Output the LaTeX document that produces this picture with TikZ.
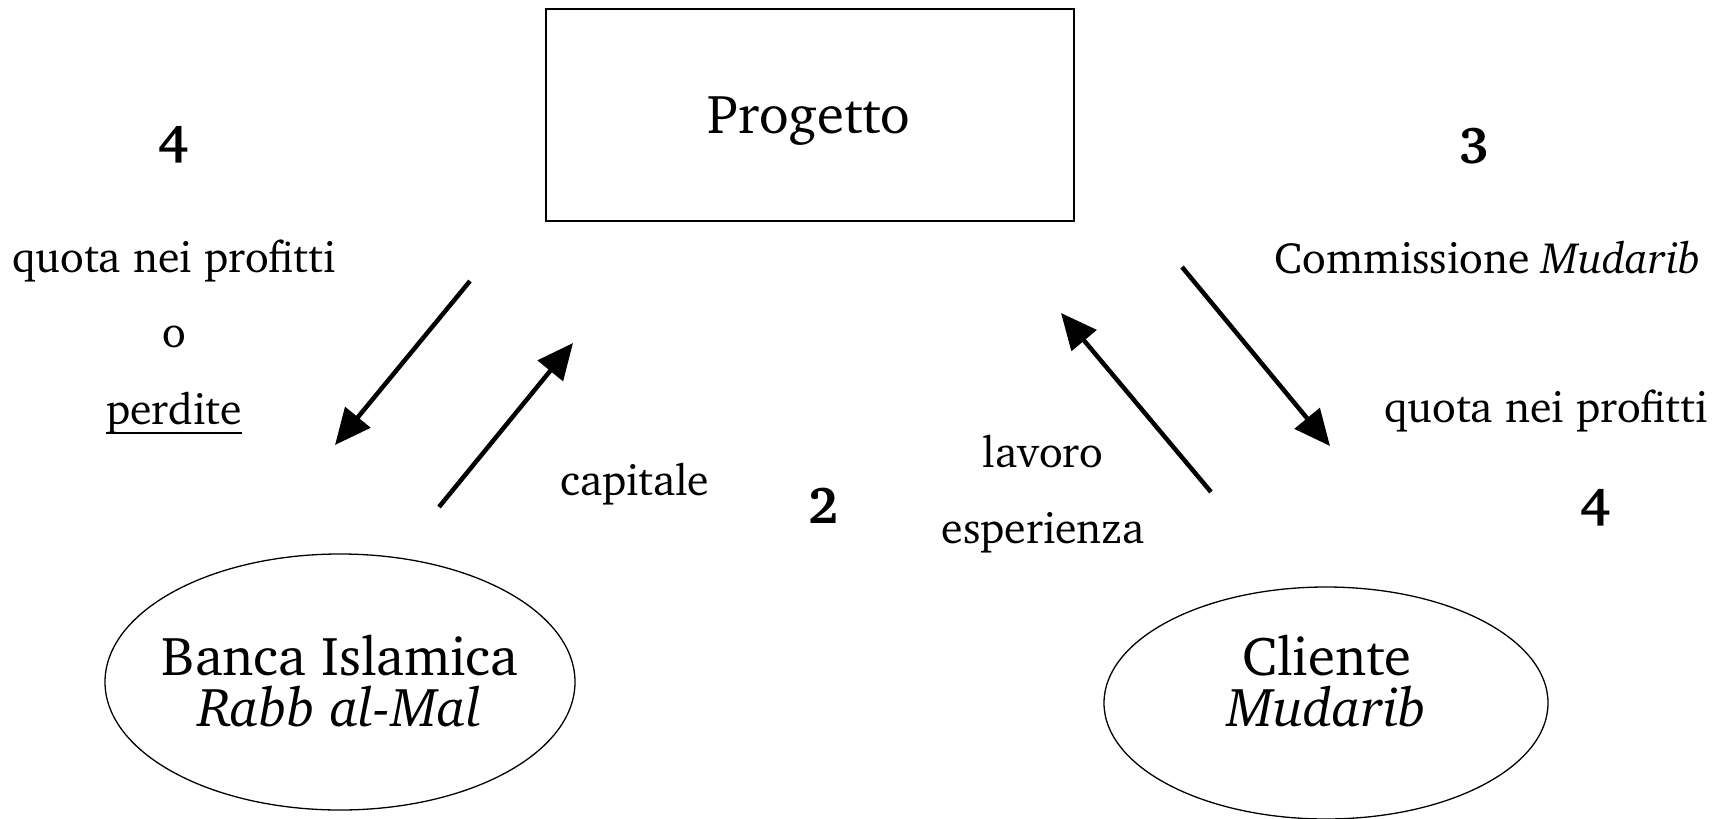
\documentclass[tikz,border=0pt]{standalone}
\usepackage[T1]{fontenc}
\usepackage{charter}
\usetikzlibrary{shapes.geometric,arrows.meta}
\tikzset{
  lbl/.style={inner sep=0pt,font=\fontsize{44}{50}\selectfont},
  big/.style={inner sep=0pt,font=\fontsize{55}{62}\selectfont,align=center},
  num/.style={inner sep=0pt,font=\fontsize{52}{58}\selectfont\bfseries},
  flow/.style={line width=4.5bp,-{Triangle[length=36bp,width=32bp]}},
  ell/.style={draw,ellipse,line width=1.3bp,inner sep=0pt},
}
\begin{document}
\begin{tikzpicture}[x=1bp,y=-1bp]
\useasboundingbox (0,0) rectangle (1722,819);
\node[draw,line width=1.5bp,minimum width=528bp,minimum height=212bp,inner sep=0pt] (proj) at (810,115) {};
\node[big] (projt) at (809,121) {Progetto};
\node[ell,minimum width=470bp,minimum height=256bp] (bank) at (340,682) {};
\node[big] (bankt) at (340,681) {Banca Islamica\\[-10bp]\textit{Rabb al-Mal}};
\node[ell,minimum width=444bp,minimum height=232bp] (cli) at (1326,703) {};
\node[big] (clit) at (1327,681) {Cliente\\[-10bp]\textit{Mudarib}};

\node[num] (n4l) at (174,144) {4};
\node[lbl] (q1) at (174,261) {quota nei profitti};
\node[lbl] (o1) at (174,337) {o};
\node[lbl] (p1) at (174,413) {perdite};
\draw[line width=2.4bp] ([yshift=1bp]p1.south west) -- ([yshift=1bp]p1.south east);
\node[lbl] (cap) at (635,484) {capitale};
\node[num] (n2) at (824,506) {2};
\node[lbl] (lav) at (1043,452) {lavoro};
\node[lbl] (esp) at (1043,533) {esperienza};
\node[num] (n3) at (1475,146) {3};
\node[lbl] (comm) at (1488,258) {Commissione \textit{Mudarib}};
\node[lbl] (q2) at (1546,411) {quota nei profitti};
\node[num] (n4r) at (1596,507) {4};

\coordinate (a1s) at (470,281); \coordinate (a1e) at (335,445);
\coordinate (a2s) at (439,507); \coordinate (a2e) at (573,343);
\coordinate (a3s) at (1211,492); \coordinate (a3e) at (1061,313);
\coordinate (a4s) at (1182,267); \coordinate (a4e) at (1330,446);
\draw[flow] (a1s) -- (a1e);
\draw[flow] (a2s) -- (a2e);
\draw[flow] (a3s) -- (a3e);
\draw[flow] (a4s) -- (a4e);
\end{tikzpicture}
\end{document}
